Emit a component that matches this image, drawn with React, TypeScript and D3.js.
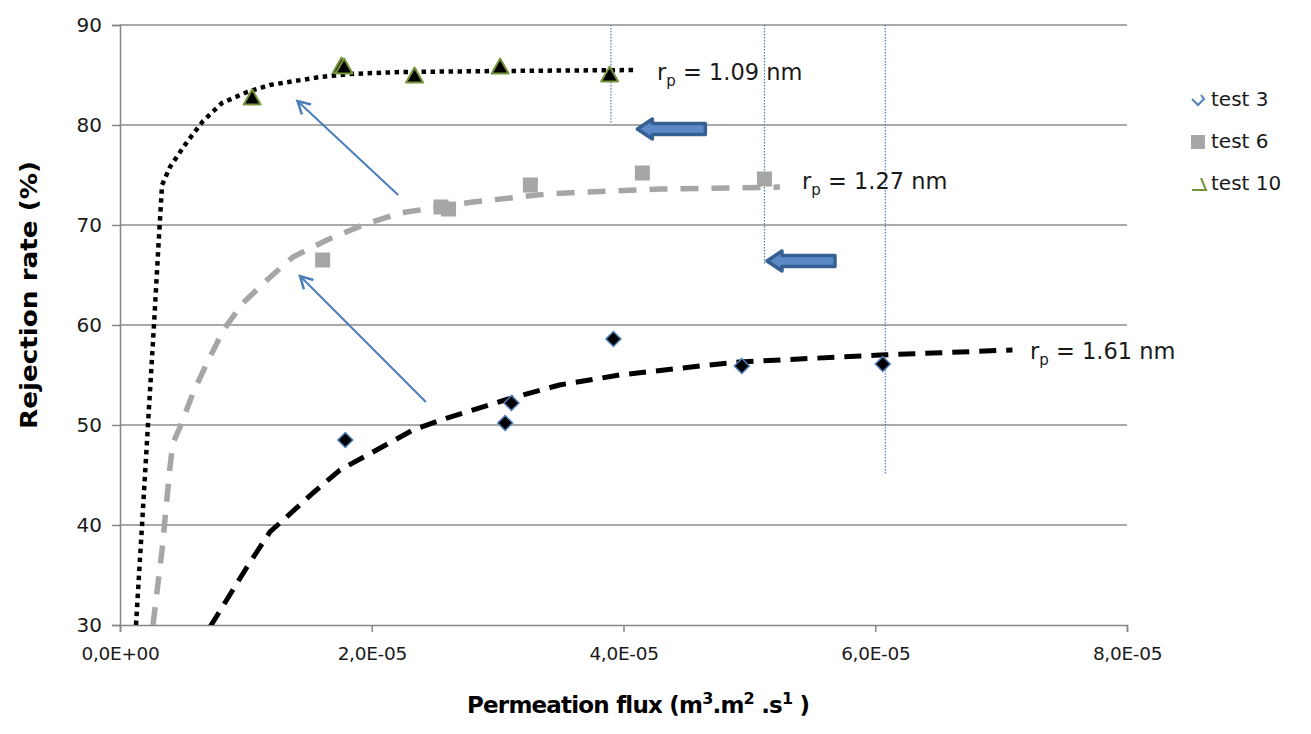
import React, { useEffect, useRef } from "react";
import * as d3 from "d3";

// measured points
const test3Flux = [1.79e-5, 3.06e-5, 3.11e-5, 3.92e-5, 4.94e-5, 6.06e-5];
const test3Rej = [48.5, 50.2, 52.2, 58.6, 55.9, 56.1];

const test6Flux = [1.61e-5, 2.55e-5, 2.61e-5, 3.26e-5, 4.15e-5, 5.12e-5];
const test6Rej = [66.5, 71.8, 71.6, 74.0, 75.2, 74.6];

const test10Flux = [1.05e-5, 1.76e-5, 1.78e-5, 2.34e-5, 3.02e-5, 3.89e-5];
const test10Rej = [82.7, 85.9, 85.8, 84.9, 85.8, 85.0];

// model curves
const fit109Flux = [0.127e-5, 0.175e-5, 0.222e-5, 0.27e-5, 0.302e-5, 0.334e-5, 0.397e-5, 0.532e-5, 0.66e-5, 0.81e-5, 1.01e-5, 1.19e-5, 1.59e-5, 1.83e-5, 2.22e-5, 3.02e-5, 4.11e-5];
const fit109Rej = [30, 40, 50, 60, 67.2, 74, 75.8, 78.3, 80.4, 82.2, 83.3, 84, 84.8, 85.1, 85.3, 85.4, 85.5];

const fit127Flux = [0.262e-5, 0.334e-5, 0.397e-5, 0.421e-5, 0.477e-5, 0.58e-5, 0.691e-5, 0.794e-5, 0.85e-5, 0.977e-5, 1.168e-5, 1.374e-5, 1.644e-5, 1.93e-5, 2.224e-5, 2.486e-5, 2.804e-5, 3.098e-5, 3.392e-5, 3.709e-5, 4.289e-5, 4.869e-5, 5.242e-5];
const fit127Rej = [30, 37.5, 45.8, 48.2, 49.8, 53.2, 56.2, 58.8, 60, 62.2, 64.5, 66.8, 68.5, 70, 71.2, 71.7, 72.3, 72.7, 73.1, 73.3, 73.6, 73.7, 73.8];

const fit161Flux = [0.715e-5, 1.009e-5, 1.191e-5, 1.533e-5, 1.747e-5, 2.01e-5, 2.327e-5, 2.597e-5, 3.06e-5, 3.49e-5, 3.97e-5, 4.61e-5, 4.92e-5, 6.04e-5, 7.09e-5];
const fit161Rej = [29.8, 35.8, 39.3, 43.2, 45.5, 47.3, 49.5, 50.7, 52.5, 54, 55, 55.9, 56.3, 57, 57.5];

const yTicks = [30, 40, 50, 60, 70, 80, 90];
const xTicks = [0, 2e-5, 4e-5, 6e-5, 8e-5];
const legendLabels = ["test 3", "test 6", "test 10"];

const FONT = "DejaVu Sans";

function fmtSci(v: number) {
  const [m, e] = v.toExponential(1).split("e");
  const ex = parseInt(e, 10);
  const sign = ex < 0 ? "-" : "+";
  return `${m.replace(".", ",")}E${sign}${String(Math.abs(ex)).padStart(2, "0")}`;
}

export default function App() {
  const ref = useRef<SVGSVGElement>(null);

  useEffect(() => {
    const svg = d3.select(ref.current);
    svg.selectAll("*").remove();

    const x = d3.scaleLinear().domain([0, 8e-5]).range([120, 1127]);
    const y = d3.scaleLinear().domain([30, 90]).range([625, 25]);

    svg.append("rect").attr("width", 1311).attr("height", 734).attr("fill", "#fff");

    // grid
    svg
      .append("g")
      .selectAll("line")
      .data(yTicks.slice(1))
      .join("line")
      .attr("x1", 120)
      .attr("x2", 1127)
      .attr("y1", (d) => y(d))
      .attr("y2", (d) => y(d))
      .attr("stroke", "#8c8c8c")
      .attr("stroke-width", 1.5);

    // axes
    const yAxis = d3.axisLeft(y).tickValues(yTicks).tickSize(8).tickPadding(10).tickFormat((d) => String(d));
    const gy = svg.append("g").attr("transform", "translate(120,0)").call(yAxis);
    gy.select(".domain").attr("stroke", "#868686").attr("stroke-width", 1.5);
    gy.selectAll(".tick line").attr("stroke", "#868686").attr("stroke-width", 1.5);
    gy.selectAll(".tick text").attr("font-family", FONT).attr("font-size", 20).attr("fill", "#1a1a1a");

    const xAxis = d3.axisBottom(x).tickValues(xTicks).tickSize(7).tickPadding(15).tickFormat((d) => fmtSci(d as number));
    const gx = svg.append("g").attr("transform", "translate(0,625)").call(xAxis);
    gx.select(".domain").attr("stroke", "#868686").attr("stroke-width", 1.5);
    gx.selectAll(".tick line").attr("stroke", "#868686").attr("stroke-width", 1.5);
    gx.selectAll(".tick text").attr("font-family", FONT).attr("font-size", 18.5).attr("letter-spacing", -0.3).attr("fill", "#1a1a1a");

    svg.append("defs").append("clipPath").attr("id", "plot").append("rect").attr("x", 120).attr("y", 20).attr("width", 1010).attr("height", 605);

    // dotted blue guides
    const guides = [
      { fx: 3.9e-5, r: 80.2 },
      { fx: 5.12e-5, r: 66.1 },
      { fx: 6.08e-5, r: 45 },
    ];
    svg
      .append("g")
      .selectAll("line")
      .data(guides)
      .join("line")
      .attr("x1", (d) => x(d.fx))
      .attr("x2", (d) => x(d.fx))
      .attr("y1", y(90))
      .attr("y2", (d) => y(d.r))
      .attr("stroke", "#4a7ebb")
      .attr("stroke-width", 1.2)
      .attr("stroke-dasharray", "1.5 1.5");

    // model curves
    const line = d3
      .line<[number, number]>()
      .x((d) => x(d[0]))
      .y((d) => y(d[1]));
    const curves = [
      { fx: fit127Flux, r: fit127Rej, color: "#a6a6a6", w: 5.5, dash: "18 13" },
      { fx: fit161Flux, r: fit161Rej, color: "#000", w: 5, dash: "17 10" },
      { fx: fit109Flux, r: fit109Rej, color: "#000", w: 4.5, dash: "4.5 4.5" },
    ];
    const gc = svg.append("g").attr("clip-path", "url(#plot)");
    curves.forEach((c) => {
      gc.append("path")
        .attr("d", line(c.fx.map((v, i) => [v, c.r[i]] as [number, number])))
        .attr("fill", "none")
        .attr("stroke", c.color)
        .attr("stroke-width", c.w)
        .attr("stroke-dasharray", c.dash);
    });

    // markers
    svg
      .append("g")
      .selectAll("rect")
      .data(test6Flux.map((v, i) => [v, test6Rej[i]]))
      .join("rect")
      .attr("x", (d) => x(d[0]) - 7.5)
      .attr("y", (d) => y(d[1]) - 7.5)
      .attr("width", 15)
      .attr("height", 15)
      .attr("fill", "#a6a6a6");

    svg
      .append("g")
      .selectAll("path")
      .data(test3Flux.map((v, i) => [v, test3Rej[i]]))
      .join("path")
      .attr("d", "M0,-7.5 L7.5,0 L0,7.5 L-7.5,0 Z")
      .attr("transform", (d) => `translate(${x(d[0])},${y(d[1])})`)
      .attr("fill", "#000")
      .attr("stroke", "#4f81bd")
      .attr("stroke-width", 1.5);

    svg
      .append("g")
      .selectAll("path")
      .data(test10Flux.map((v, i) => [v, test10Rej[i]]))
      .join("path")
      .attr("d", "M0,-8.5 L8.5,6.5 L-8.5,6.5 Z")
      .attr("transform", (d) => `translate(${x(d[0])},${y(d[1])})`)
      .attr("fill", "#000")
      .attr("stroke", "#77933c")
      .attr("stroke-width", 2)
      .attr("stroke-linejoin", "round");

    // thin blue arrows
    const arrows = [
      { f0: 2.21e-5, r0: 73, f1: 1.41e-5, r1: 82.4 },
      { f0: 2.43e-5, r0: 52.3, f1: 1.43e-5, r1: 64.9 },
    ];
    arrows.forEach((a) => {
      const x0 = x(a.f0), y0 = y(a.r0), x1 = x(a.f1), y1 = y(a.r1);
      const ang = Math.atan2(y1 - y0, x1 - x0);
      const hl = 14, hw = 0.5;
      svg.append("line").attr("x1", x0).attr("y1", y0).attr("x2", x1).attr("y2", y1)
        .attr("stroke", "#4a7ebb").attr("stroke-width", 2);
      svg.append("path")
        .attr("d", `M${x1 + hl * Math.cos(ang + Math.PI - hw)},${y1 + hl * Math.sin(ang + Math.PI - hw)} L${x1},${y1} L${x1 + hl * Math.cos(ang + Math.PI + hw)},${y1 + hl * Math.sin(ang + Math.PI + hw)}`)
        .attr("fill", "none").attr("stroke", "#4a7ebb").attr("stroke-width", 2.5);
    });

    // block arrows
    const blocks = [
      { f: 4.11e-5, r: 79.6 },
      { f: 5.14e-5, r: 66.4 },
    ];
    blocks.forEach((b) => {
      const tx = x(b.f), ty = y(b.r);
      const L = 68, bh = 5.5, hh = 10, hl = 15;
      svg.append("path")
        .attr("d", `M${tx},${ty} L${tx + hl},${ty - hh} L${tx + hl},${ty - bh} L${tx + L},${ty - bh} L${tx + L},${ty + bh} L${tx + hl},${ty + bh} L${tx + hl},${ty + hh} Z`)
        .attr("fill", "#5b8ac6").attr("stroke", "#365f94").attr("stroke-width", 3.5).attr("stroke-linejoin", "round");
    });

    // r_p labels
    const labels = [
      { px: 657, py: 80, t: " = 1.09 nm" },
      { px: 802, py: 189, t: " = 1.27 nm" },
      { px: 1030, py: 359, t: " = 1.61 nm" },
    ];
    labels.forEach((l) => {
      const t = svg.append("text").attr("x", l.px).attr("y", l.py).attr("font-family", FONT).attr("font-size", 22.5).attr("fill", "#1a1a1a");
      t.append("tspan").text("r");
      t.append("tspan").attr("font-size", 15).attr("dy", 6).text("p");
      t.append("tspan").attr("dy", -6).text(l.t);
    });

    // legend
    const lg = svg.append("g");
    lg.append("path").attr("d", "M1192,99 L1198,105 L1204,99 L1201,95").attr("fill", "none").attr("stroke", "#4f81bd").attr("stroke-width", 2);
    lg.append("rect").attr("x", 1191).attr("y", 135).attr("width", 14).attr("height", 14).attr("fill", "#a6a6a6");
    lg.append("path").attr("d", "M1201,178 L1206,190 L1192,190").attr("fill", "none").attr("stroke", "#77933c").attr("stroke-width", 2);
    lg.selectAll("text")
      .data(legendLabels)
      .join("text")
      .attr("x", 1211)
      .attr("y", (d, i) => 106 + i * 42)
      .attr("font-family", FONT)
      .attr("font-size", 20)
      .attr("fill", "#1a1a1a")
      .text((d) => d);

    // axis titles
    svg.append("text")
      .attr("transform", "translate(37,295) rotate(-90)")
      .attr("text-anchor", "middle")
      .attr("font-family", FONT)
      .attr("font-weight", "bold")
      .attr("font-size", 23)
      .attr("textLength", 268)
      .attr("lengthAdjust", "spacingAndGlyphs")
      .attr("fill", "#000")
      .text("Rejection rate (%)");

    const xt = svg.append("text")
      .attr("x", 467)
      .attr("y", 713)
      .attr("font-family", FONT)
      .attr("font-weight", "bold")
      .attr("font-size", 23)
      .attr("letter-spacing", -0.8)
      .attr("fill", "#000");
    xt.append("tspan").text("Permeation flux (m");
    xt.append("tspan").attr("dy", -9).attr("font-size", 16).text("3");
    xt.append("tspan").attr("dy", 9).text(".m");
    xt.append("tspan").attr("dy", -9).attr("font-size", 16).text("2");
    xt.append("tspan").attr("dy", 9).text(" .s");
    xt.append("tspan").attr("dy", -9).attr("font-size", 16).text("1");
    xt.append("tspan").attr("dy", 9).text(" )");
  }, []);

  return (
    <svg
      ref={ref}
      width={1311}
      height={734}
      style={{ position: "absolute", left: 0, top: 0 }}
    />
  );
}
